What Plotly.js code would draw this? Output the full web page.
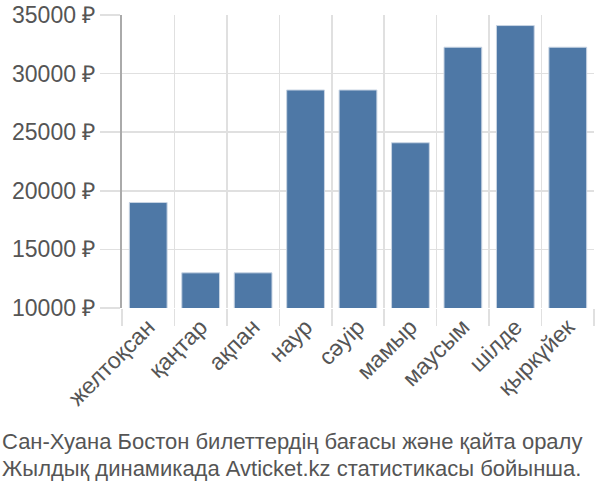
<!DOCTYPE html>
<html><head><meta charset="utf-8">
<script src="https://cdn.plot.ly/plotly-3.0.1.min.js"></script>
<style>body{margin:0;padding:0;background:#fff}#c{width:600px;height:500px}</style>
</head><body><div id="c"></div>
<script>
const months = ["желтоқсан","қаңтар","ақпан","наур","сәуір","мамыр","маусым","шілде","қыркүйек"];
const prices = [19000,13000,13000,28600,28600,24100,32250,34100,32250];
const yTickVals = [10000,15000,20000,25000,30000,35000];
const yTickText = ["10000 ₽","15000 ₽","20000 ₽","25000 ₽","30000 ₽","35000 ₽"];
const captionLines = ["Сан-Хуана Бостон билеттердің бағасы және қайта оралу","Жылдық динамикада Avticket.kz статистикасы бойынша."];

const L=122, R=6, T=15, B=192, W=600, H=500;
const pw = W-L-R, ph = H-T-B;
const capFont = {family:'Liberation Sans, Arial, sans-serif', size:22, color:'#555'};
function py(pix){ return (H-B-pix)/ph; }
Plotly.newPlot('c',[{
  type:'bar', x:months, y:prices,
  marker:{color:'#4e78a6', line:{color:'#c8d4e3', width:1}},
  hoverinfo:'none'
}],{
  width:W, height:H, margin:{l:L,r:R,t:T,b:B},
  paper_bgcolor:'#fff', plot_bgcolor:'#fff',
  bargap:0.28, showlegend:false,
  font:{family:'Liberation Sans, Arial, sans-serif', color:'#555', size:20},
  xaxis:{type:'category', tickson:'boundaries', showgrid:true, gridcolor:'#e0e0e0', gridwidth:1.5,
    ticks:'outside', ticklen:17, tickcolor:'#e0e0e0', tickwidth:1.5, tickangle:-45,
    tickfont:{size:23, color:'#555'}, showline:false, zeroline:false, fixedrange:true},
  yaxis:{range:[10000,35000], tickvals:yTickVals, ticktext:yTickText,
    showgrid:true, gridcolor:'#e0e0e0', gridwidth:1.5, ticks:'outside', ticklen:20, tickcolor:'#e0e0e0', tickwidth:1.5,
    tickfont:{size:23, color:'#555'}, showline:true, linecolor:'#aaa', linewidth:2, zeroline:false, fixedrange:true},
  annotations:[
    {xref:'paper', yref:'paper', x:-L/pw, y:py(451), xanchor:'left', yanchor:'bottom', yshift:-5,
     text:captionLines[0], showarrow:false, align:'left', font:capFont},
    {xref:'paper', yref:'paper', x:-L/pw, y:py(478), xanchor:'left', yanchor:'bottom', yshift:-5,
     text:captionLines[1], showarrow:false, align:'left', font:capFont}
  ]
},{displayModeBar:false, staticPlot:true});
</script></body></html>
